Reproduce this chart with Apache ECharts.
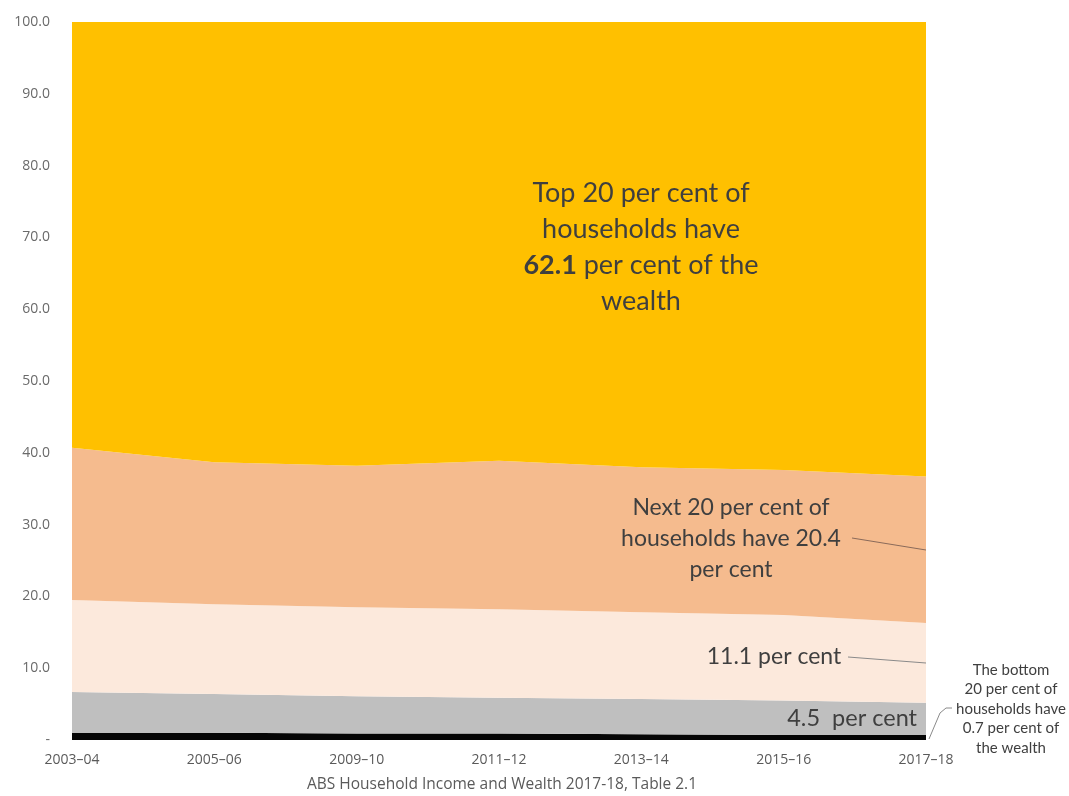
<!DOCTYPE html>
<html>
<head>
<meta charset="utf-8">
<script src="https://cdn.jsdelivr.net/npm/echarts@6/dist/echarts.min.js"></script>
<style>
html,body{margin:0;padding:0;background:#fff;}
#chart{width:1069px;height:796px;}
</style>
</head>
<body>
<div id="chart"></div>
<script>
const categories = ['2003–04','2005–06','2009–10','2011–12','2013–14','2015–16','2017–18'];
const bottom20 = [1.0, 1.0, 0.9, 0.9, 0.8, 0.7, 0.7];
const second20 = [5.7, 5.4, 5.2, 5.0, 4.9, 4.8, 4.5];
const third20  = [12.8, 12.5, 12.4, 12.3, 12.1, 11.9, 11.1];
const fourth20 = [21.2, 19.8, 19.7, 20.7, 20.2, 20.2, 20.4];
const top20    = [59.3, 61.3, 61.8, 61.1, 62.0, 62.4, 63.3];
const sourceNote = 'ABS Household Income and Wealth 2017-18, Table 2.1';

const chart = echarts.init(document.getElementById('chart'));
const FONT = 'Lato, "Open Sans", sans-serif';
const AXFONT = '"Open Sans", sans-serif';
const TXT = '#3f3f3f';

function areaSeries(name, data, color) {
  return {
    name, type: 'line', stack: 'total', data,
    symbol: 'none', smooth: false,
    lineStyle: { width: 0 },
    areaStyle: { color, opacity: 1 },
    itemStyle: { color },
    emphasis: { disabled: true }
  };
}

chart.setOption({
  animation: false,
  backgroundColor: '#fff',
  grid: { left: 72, right: 143, top: 22, bottom: 56, containLabel: false },
  xAxis: {
    type: 'category', data: categories, boundaryGap: false,
    axisLine: { show: false }, axisTick: { show: false },
    axisLabel: { color: '#5a5a5a', fontSize: 14, fontFamily: AXFONT, margin: 13 }
  },
  yAxis: {
    type: 'value', min: 0, max: 100, interval: 10,
    axisLine: { show: false }, axisTick: { show: false },
    splitLine: { show: false },
    axisLabel: {
      color: '#6a6a6a', fontSize: 14, fontFamily: AXFONT, margin: 22,
      formatter: v => v === 0 ? '-' : v.toFixed(1)
    }
  },
  series: [
    areaSeries('Bottom 20%', bottom20, '#050505'),
    areaSeries('Second 20%', second20, '#bfbfbf'),
    areaSeries('Third 20%', third20, '#fce9dc'),
    areaSeries('Fourth 20%', fourth20, '#f5bb8e'),
    areaSeries('Top 20%', top20, '#ffc000')
  ],
  graphic: {
    elements: [
      {
        type: 'text', x: 641, y: 175, z: 100,
        style: {
          text: 'Top 20 per cent of\nhouseholds have\n{b|62.1} per cent of the\nwealth',
          fill: TXT, font: '27px ' + FONT, align: 'center', lineHeight: 36,
          rich: { b: { fontWeight: 'bold', fontSize: 27, fontFamily: FONT, fill: TXT, lineHeight: 36 } }
        }
      },
      {
        type: 'text', x: 731, y: 492, z: 100,
        style: { text: 'Next 20 per cent of\nhouseholds have 20.4\nper cent', fill: TXT, font: '23px ' + FONT, align: 'center', lineHeight: 31 }
      },
      {
        type: 'text', x: 774, y: 645, z: 100,
        style: { text: '11.1 per cent', fill: TXT, font: '23px ' + FONT, align: 'center' }
      },
      {
        type: 'text', x: 917, y: 706, z: 100,
        style: { text: '4.5  per cent', fill: TXT, font: '23.5px ' + FONT, align: 'right' }
      },
      {
        type: 'text', x: 1011, y: 660, z: 100,
        style: { text: 'The bottom\n20 per cent of\nhouseholds have\n0.7 per cent of\nthe wealth', fill: TXT, font: '15px ' + FONT, align: 'center', lineHeight: 19.5 }
      },
      { type: 'polyline', z: 100, shape: { points: [[852, 538], [926, 550]] }, style: { stroke: '#8a6a5a', lineWidth: 1, fill: null } },
      { type: 'polyline', z: 100, shape: { points: [[848, 657], [926, 663]] }, style: { stroke: '#8a8a8a', lineWidth: 1, fill: null } },
      { type: 'polyline', z: 100, shape: { points: [[929, 739], [940, 713], [946, 708], [952, 708]] }, style: { stroke: '#8a8a8a', lineWidth: 1, fill: null } },
      {
        type: 'text', x: 502, y: 777, z: 100,
        style: { text: sourceNote, fill: '#5a5a5a', font: '15.5px ' + AXFONT, align: 'center' }
      }
    ]
  }
});
</script>
</body>
</html>
